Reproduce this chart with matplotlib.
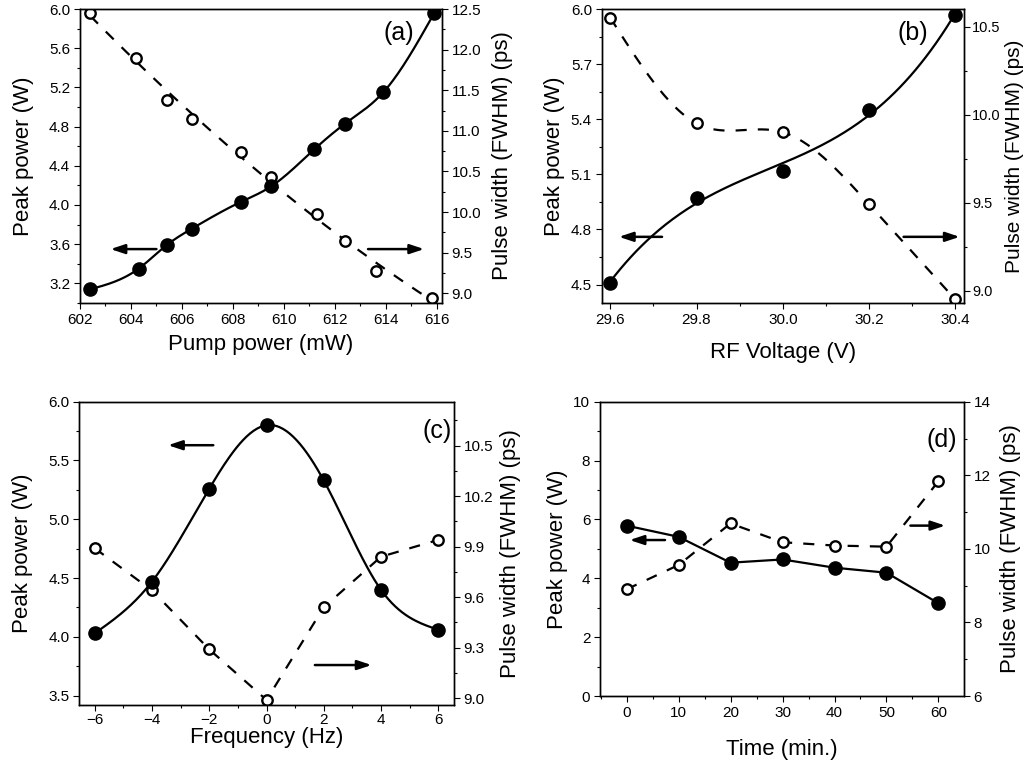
import numpy as np
import matplotlib
matplotlib.use('Agg')
import matplotlib.pyplot as plt
from matplotlib.ticker import MultipleLocator, AutoMinorLocator

plt.rcParams['font.family'] = ['Liberation Sans', 'DejaVu Sans']

# (a) pump power
pump_x = [602.4, 604.3, 605.4, 606.4, 608.3, 609.5, 611.2, 612.4, 613.9, 615.9]
pump_peak = [3.14, 3.35, 3.59, 3.76, 4.03, 4.19, 4.57, 4.83, 5.15, 5.96]
pump_x_w = [602.4, 604.2, 605.4, 606.4, 608.3, 609.5, 611.3, 612.4, 613.6, 615.8]
pump_width = [12.45, 11.90, 11.38, 11.14, 10.74, 10.43, 9.98, 9.64, 9.28, 8.94]

# (b) RF voltage
rf_x = [29.6, 29.8, 30.0, 30.2, 30.4]
rf_peak = [4.51, 4.97, 5.12, 5.45, 5.97]
rf_width = [10.55, 9.95, 9.90, 9.49, 8.95]

# (c) frequency detuning
freq_x = [-6, -4, -2, 0, 2, 4, 6]
freq_peak = [4.03, 4.47, 5.26, 5.80, 5.33, 4.40, 4.06]
freq_width = [9.89, 9.64, 9.29, 8.99, 9.54, 9.84, 9.94]

# (d) stability over time
time_x = [0, 10, 20, 30, 40, 50, 60]
time_peak = [5.79, 5.41, 4.53, 4.64, 4.36, 4.19, 3.15]
time_width = [8.90, 9.56, 10.69, 10.18, 10.09, 10.06, 11.84]


def spline(x, y, n=200):
    # natural cubic spline, just for drawing the smooth guide lines
    x = np.asarray(x, float)
    y = np.asarray(y, float)
    h = np.diff(x)
    m = len(x)
    A = np.zeros((m, m))
    b = np.zeros(m)
    A[0, 0] = A[-1, -1] = 1
    for i in range(1, m - 1):
        A[i, i - 1] = h[i - 1]
        A[i, i] = 2 * (h[i - 1] + h[i])
        A[i, i + 1] = h[i]
        b[i] = 6 * ((y[i + 1] - y[i]) / h[i] - (y[i] - y[i - 1]) / h[i - 1])
    M = np.linalg.solve(A, b)
    xs = np.linspace(x[0], x[-1], n)
    idx = np.clip(np.searchsorted(x, xs) - 1, 0, m - 2)
    x0, x1 = x[idx], x[idx + 1]
    hh = x1 - x0
    ys = (M[idx] * (x1 - xs) ** 3 / (6 * hh) + M[idx + 1] * (xs - x0) ** 3 / (6 * hh)
          + (y[idx] / hh - M[idx] * hh / 6) * (x1 - xs)
          + (y[idx + 1] / hh - M[idx + 1] * hh / 6) * (xs - x0))
    return xs, ys


def polyline(x, y, deg, n=200):
    p = np.polyfit(x, y, deg)
    xs = np.linspace(min(x), max(x), n)
    return xs, np.polyval(p, xs)


def style(ax):
    ax.tick_params(direction='out', labelsize=11, length=4, width=0.8, pad=3)
    ax.tick_params(which='minor', direction='out', length=2.5, width=0.8)
    ax.xaxis.set_minor_locator(AutoMinorLocator(2))
    ax.yaxis.set_minor_locator(AutoMinorLocator(2))
    for s in ax.spines.values():
        s.set_linewidth(1.0)


def arrow(ax, x0, x1, y):
    ax.annotate('', xy=(x1, y), xytext=(x0, y),
                arrowprops=dict(arrowstyle='-|>,head_length=0.6,head_width=0.2',
                                color='black', lw=1.8,
                                mutation_scale=14, shrinkA=0, shrinkB=0))


fig = plt.figure(figsize=(10.29, 7.63), dpi=100)

filled = dict(marker='o', color='black', markersize=9.5, linestyle='none')
opened = dict(marker='o', markerfacecolor='white', markeredgecolor='black',
              markersize=7.5, markeredgewidth=1.7, linestyle='none')

lab = 16
plab = 18
dash = (0, (5, 5))

# ---- (a)
ax = fig.add_axes([0.0777, 0.6029, 0.3518, 0.3853])
ax2 = ax.twinx()
xs, ys = spline(pump_x, pump_peak)
ax.plot(xs, ys, color='black', lw=1.6)
ax.plot(pump_x, pump_peak, **filled)
xs, ys = polyline(pump_x_w, pump_width, 2)
ax2.plot(xs, ys, color='black', lw=1.6, linestyle=dash)
ax2.plot(pump_x_w, pump_width, **opened)
ax.set_xlim(602, 616.2)
ax.set_ylim(3.0, 6.0)
ax2.set_ylim(8.88, 12.5)
ax.xaxis.set_major_locator(MultipleLocator(2))
ax.yaxis.set_major_locator(MultipleLocator(0.4))
ax2.yaxis.set_major_locator(MultipleLocator(0.5))
ax.yaxis.set_major_formatter('{x:.1f}')
ax2.yaxis.set_major_formatter('{x:.1f}')
ax.set_xlabel('Pump power (mW)', fontsize=lab, labelpad=5)
ax.set_ylabel('Peak power (W)', fontsize=lab, labelpad=11)
ax2.set_ylabel('Pulse width (FWHM) (ps)', fontsize=lab, labelpad=8)
style(ax); style(ax2)
arrow(ax, 605.0, 603.2, 3.55)
arrow(ax, 613.3, 615.5, 3.55)
ax.text(0.88, 0.92, '(a)', transform=ax.transAxes, fontsize=plab, ha='center', va='center')
ax.set_zorder(ax2.get_zorder() + 1); ax.patch.set_visible(False)

# ---- (b)
ax = fig.add_axes([0.5847, 0.6029, 0.3521, 0.3853])
ax2 = ax.twinx()
xs, ys = polyline(rf_x, rf_peak, 3)
ax.plot(xs, ys, color='black', lw=1.6)
ax.plot(rf_x, rf_peak, **filled)
xs, ys = spline(rf_x, rf_width)
ax2.plot(xs, ys, color='black', lw=1.6, linestyle=dash)
ax2.plot(rf_x, rf_width, **opened)
ax.set_xlim(29.58, 30.42)
ax.set_ylim(4.4, 6.0)
ax2.set_ylim(8.93, 10.6)
ax.xaxis.set_major_locator(MultipleLocator(0.2))
ax.yaxis.set_major_locator(MultipleLocator(0.3))
ax2.yaxis.set_major_locator(MultipleLocator(0.5))
ax.xaxis.set_major_formatter('{x:.1f}')
ax.yaxis.set_major_formatter('{x:.1f}')
ax2.yaxis.set_major_formatter('{x:.1f}')
ax.set_xlabel('RF Voltage (V)', fontsize=lab, labelpad=11)
ax.set_ylabel('Peak power (W)', fontsize=lab, labelpad=4)
style(ax); style(ax2)
ax2.tick_params(axis='y', pad=2, labelsize=10.5)
ax2.set_ylabel('Pulse width (FWHM) (ps)', fontsize=15, labelpad=3)
arrow(ax, 29.72, 29.62, 4.76)
arrow(ax, 30.28, 30.41, 4.76)
ax.text(0.86, 0.92, '(b)', transform=ax.transAxes, fontsize=plab, ha='center', va='center')
ax.set_zorder(ax2.get_zorder() + 1); ax.patch.set_visible(False)

# ---- (c)
ax = fig.add_axes([0.0768, 0.0760, 0.3644, 0.3975])
ax2 = ax.twinx()
xs, ys = spline(freq_x, freq_peak)
ax.plot(xs, ys, color='black', lw=1.6)
ax.plot(freq_x, freq_peak, **filled)
ax2.plot(freq_x, freq_width, color='black', lw=1.6, linestyle=dash)
ax2.plot(freq_x, freq_width, **opened)
ax.set_xlim(-6.55, 6.55)
ax.set_ylim(3.42, 6.0)
ax2.set_ylim(8.96, 10.76)
ax.xaxis.set_major_locator(MultipleLocator(2))
ax.yaxis.set_major_locator(MultipleLocator(0.5))
ax2.yaxis.set_major_locator(MultipleLocator(0.3))
ax.yaxis.set_major_formatter('{x:.1f}')
ax2.yaxis.set_major_formatter('{x:.1f}')
ax.set_xlabel('Frequency (Hz)', fontsize=lab, labelpad=0)
ax.set_ylabel('Peak power (W)', fontsize=lab, labelpad=11)
ax2.set_ylabel('Pulse width (FWHM) (ps)', fontsize=lab, labelpad=5)
style(ax); style(ax2)
ax.tick_params(axis='x', pad=2)
arrow(ax, -1.86, -3.44, 5.63)
arrow(ax, 1.69, 3.67, 3.76)
ax.text(0.955, 0.905, '(c)', transform=ax.transAxes, fontsize=plab, ha='center', va='center')
ax.set_zorder(ax2.get_zorder() + 1); ax.patch.set_visible(False)

# ---- (d)
ax = fig.add_axes([0.5831, 0.0878, 0.3537, 0.3857])
ax2 = ax.twinx()
ax.plot(time_x, time_peak, color='black', lw=1.6)
ax.plot(time_x, time_peak, **filled)
ax2.plot(time_x, time_width, color='black', lw=1.6, linestyle=dash)
ax2.plot(time_x, time_width, **opened)
ax.set_xlim(-5.1, 64.9)
ax.set_ylim(0, 10)
ax2.set_ylim(6, 14)
ax.xaxis.set_major_locator(MultipleLocator(10))
ax.yaxis.set_major_locator(MultipleLocator(2))
ax2.yaxis.set_major_locator(MultipleLocator(2))
ax.set_xlabel('Time (min.)', fontsize=lab, labelpad=14)
ax.set_ylabel('Peak power (W)', fontsize=lab, labelpad=4)
ax2.set_ylabel('Pulse width (FWHM) (ps)', fontsize=lab, labelpad=7)
style(ax); style(ax2)
arrow(ax, 7.4, 0.6, 5.30)
arrow(ax, 54.6, 61.3, 5.79)
ax.text(0.94, 0.87, '(d)', transform=ax.transAxes, fontsize=plab, ha='center', va='center')
ax.set_zorder(ax2.get_zorder() + 1); ax.patch.set_visible(False)

fig.savefig('out.png', dpi=100)
